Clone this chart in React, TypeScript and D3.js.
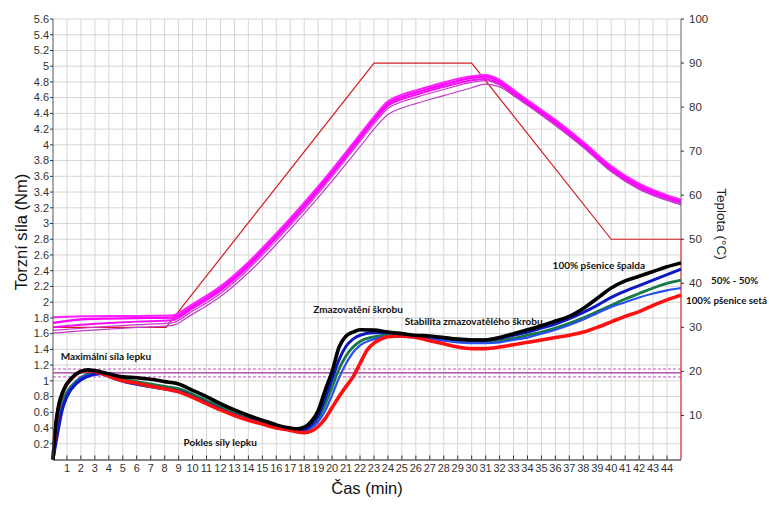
import React from "react";
import * as d3 from "d3";

// ---------- DATA ----------
const X_TICKS = d3.range(1, 45);
const LEFT_TICKS = d3.range(1, 29).map((i) => +(i * 0.2).toFixed(1));
const RIGHT_TICKS = [10, 20, 30, 40, 50, 60, 70, 80, 90, 100];

// programmed temperature profile (°C)
const TEMP_PROFILE: [number, number][] = [
  [0, 30], [8.1, 30], [23, 90], [30, 90], [40, 50], [45, 50], [45, 0],
];

// dough temperature curves (°C)
const MAG_T = [0, 2, 4, 6, 8.5, 10, 12, 14, 16, 18, 20, 22, 23, 24, 25, 26, 28, 30, 31, 32, 33, 34, 36, 38, 40, 42, 44, 45];
const MAG_1 = [32.3, 32.5, 32.6, 32.6, 32.7, 35.3, 39.3, 44.8, 51.3, 58.3, 65.8, 73.8, 77.8, 81.3, 82.8, 83.8, 85.6, 87.0, 87.3, 86.2, 83.9, 81.6, 77.1, 72.1, 66.6, 62.6, 60.0, 59.0];
const MAG_2 = [31.0, 31.8, 32.0, 32.1, 32.2, 34.8, 38.8, 44.3, 50.8, 57.8, 65.3, 73.3, 77.3, 80.8, 82.3, 83.3, 85.1, 86.6, 86.9, 85.8, 83.5, 81.2, 76.7, 71.7, 66.2, 62.2, 59.7, 58.7];
const MAG_3 = [30.0, 30.6, 31.0, 31.3, 31.6, 34.3, 38.3, 43.8, 50.3, 57.3, 64.8, 72.8, 76.8, 80.3, 81.8, 82.8, 84.6, 86.1, 86.4, 85.3, 83.0, 80.8, 76.3, 71.3, 65.8, 61.8, 59.3, 58.3];
const MAG_4 = [29.3, 29.8, 30.2, 30.6, 31.0, 33.7, 37.7, 43.2, 49.7, 56.7, 64.2, 72.2, 76.2, 79.7, 81.2, 82.2, 84.0, 85.6, 86.0, 85.0, 82.8, 80.6, 76.0, 71.0, 65.5, 61.5, 59.0, 58.0];
const MAG_5 = [28.7, 29.2, 29.6, 30.0, 30.4, 33.0, 37.0, 42.4, 48.8, 55.8, 63.2, 71.0, 75.0, 78.3, 79.8, 80.8, 82.6, 84.4, 85.2, 84.6, 82.6, 80.4, 75.8, 70.8, 65.3, 61.3, 58.8, 57.8];

// torque curves (Nm)
const TORQUE_BLACK: [number, number][] = [[0,0],[0.2,0.45],[0.4,0.68],[0.75,0.88],[1.35,1.04],[2,1.12],[2.5,1.14],[3,1.13],[4,1.09],[5,1.05],[6,1.04],[7,1.02],[8,0.99],[9,0.96],[10,0.88],[11,0.8],[12,0.71],[13,0.63],[14,0.56],[15,0.5],[16,0.44],[17,0.4],[17.5,0.39],[18,0.41],[18.5,0.48],[19,0.62],[19.5,0.88],[20,1.12],[20.5,1.43],[21,1.57],[21.5,1.62],[22,1.65],[23,1.645],[24,1.62],[25,1.6],[26,1.58],[27,1.57],[28,1.55],[29,1.53],[30,1.52],[31,1.52],[32,1.55],[33,1.6],[34,1.65],[35,1.7],[36,1.76],[37,1.82],[38,1.92],[39,2.05],[40,2.18],[41,2.27],[42,2.33],[43,2.39],[44,2.45],[45,2.5]];
const TORQUE_BLUE_1: [number, number][] = [[0,0],[0.3,0.3],[0.65,0.62],[1,0.8],[1.7,0.97],[2.4,1.05],[3.4,1.09],[4,1.06],[5,1.0],[6,0.96],[7,0.93],[8,0.9],[9,0.87],[10,0.8],[11,0.72],[12,0.64],[13,0.57],[14,0.51],[15,0.46],[16,0.41],[17,0.38],[17.5,0.37],[18,0.38],[18.5,0.44],[19,0.56],[19.5,0.78],[20,1.02],[20.5,1.27],[21,1.44],[21.5,1.53],[22,1.58],[23,1.61],[24,1.61],[25,1.59],[26,1.57],[27,1.56],[28,1.54],[29,1.53],[30,1.52],[31,1.52],[32,1.54],[33,1.58],[34,1.62],[35,1.67],[36,1.72],[37,1.79],[38,1.87],[39,1.96],[40,2.06],[41,2.14],[42,2.21],[43,2.28],[44,2.35],[45,2.42]];
const TORQUE_BLUE_2: [number, number][] = [[0,0],[0.3,0.35],[0.65,0.66],[1,0.83],[1.7,0.99],[2.4,1.07],[3.4,1.09],[4,1.05],[5,0.99],[6,0.95],[7,0.92],[8,0.89],[9,0.86],[10,0.79],[11,0.71],[12,0.63],[13,0.56],[14,0.5],[15,0.45],[16,0.4],[17,0.37],[17.5,0.36],[18,0.36],[18.5,0.4],[19,0.48],[19.5,0.62],[20,0.82],[20.5,1.04],[21,1.22],[21.5,1.36],[22,1.45],[23,1.53],[24,1.56],[25,1.56],[26,1.55],[27,1.53],[28,1.51],[29,1.49],[30,1.48],[31,1.48],[32,1.49],[33,1.52],[34,1.55],[35,1.6],[36,1.65],[37,1.71],[38,1.78],[39,1.86],[40,1.94],[41,2.0],[42,2.06],[43,2.11],[44,2.15],[45,2.18]];
const TORQUE_GREEN: [number, number][] = [[0,0],[0.3,0.45],[0.6,0.7],[1,0.86],[1.7,1.0],[2.4,1.08],[3,1.1],[4,1.07],[5,1.02],[6,0.99],[7,0.96],[8,0.93],[9,0.9],[10,0.83],[11,0.75],[12,0.67],[13,0.6],[14,0.53],[15,0.47],[16,0.42],[17,0.38],[17.5,0.37],[18,0.37],[18.5,0.42],[19,0.52],[19.5,0.7],[20,0.92],[20.5,1.15],[21,1.32],[21.5,1.43],[22,1.5],[23,1.56],[24,1.58],[25,1.57],[26,1.56],[27,1.54],[28,1.52],[29,1.5],[30,1.49],[31,1.49],[32,1.51],[33,1.54],[34,1.58],[35,1.62],[36,1.67],[37,1.73],[38,1.8],[39,1.88],[40,1.96],[41,2.04],[42,2.11],[43,2.18],[44,2.24],[45,2.28]];
const TORQUE_RED: [number, number][] = [[0,0],[0.2,0.42],[0.4,0.67],[0.75,0.88],[1.35,1.03],[2,1.12],[2.5,1.13],[3,1.12],[4,1.06],[5,1.0],[6,0.97],[7,0.93],[8,0.9],[9,0.86],[10,0.79],[11,0.71],[12,0.63],[13,0.56],[14,0.5],[15,0.45],[16,0.4],[17,0.37],[17.5,0.35],[18,0.34],[18.5,0.36],[19,0.42],[19.5,0.52],[20,0.66],[20.5,0.8],[21,0.93],[21.5,1.05],[22,1.22],[22.5,1.39],[23,1.48],[23.5,1.53],[24,1.56],[25,1.57],[26,1.55],[27,1.51],[28,1.47],[29,1.43],[30,1.41],[31,1.41],[32,1.43],[33,1.46],[34,1.49],[35,1.52],[36,1.55],[37,1.58],[38,1.62],[39,1.68],[40,1.75],[41,1.82],[42,1.88],[43,1.96],[44,2.03],[45,2.09]];

const REF_SOLID = 1.1;
const REF_DASHED = [1.15, 1.05];

const ANNOTATIONS = [
  { text: "Maximální síla lepku", t: 0.55, v: 1.265 },
  { text: "Pokles síly lepku", t: 9.35, v: 0.17 },
  { text: "Zmazovatění škrobu", t: 18.65, v: 1.865 },
  { text: "Stabilita zmazovatělého škrobu", t: 25.2, v: 1.71 },
  { text: "100% pšenice špalda", t: 35.8, v: 2.42 },
];
const RIGHT_LABELS = [
  { text: "50% - 50%", x: 711, y: 283.5 },
  { text: "100% pšenice setá", x: 686, y: 303.5 },
];

// ---------- LAYOUT ----------
const W = 769, H = 513;
const X0 = 53, X1 = 681, Y0 = 459.5, Y1 = 19;

export default function App() {
  const x = d3.scaleLinear().domain([0, 45]).range([X0, X1]);
  const yL = d3.scaleLinear().domain([0, 5.6]).range([Y0, Y1]);
  const yR = d3.scaleLinear().domain([0, 100]).range([Y0, Y1]);

  const lineL = d3.line<[number, number]>().x((d) => x(d[0])).y((d) => yL(d[1])).curve(d3.curveMonotoneX);
  const lineR = d3.line<[number, number]>().x((d) => x(d[0])).y((d) => yR(d[1])).curve(d3.curveMonotoneX);
  const lineLin = d3.line<[number, number]>().x((d) => x(d[0])).y((d) => yR(d[1]));

  const mag = (vals: number[]) => MAG_T.map((t, i) => [t, vals[i]] as [number, number]);
  const magSeries = [
    { d: mag(MAG_5), c: "#c23cc8", w: 1.2 },
    { d: mag(MAG_4), c: "#d030d8", w: 1.2 },
    { d: mag(MAG_3), c: "#f010f0", w: 2 },
    { d: mag(MAG_2), c: "#ff00ff", w: 2.2 },
    { d: mag(MAG_1), c: "#ff20ff", w: 2 },
  ];
  const torque = [
    { d: TORQUE_GREEN, c: "#147a44", w: 2.8 },
    { d: TORQUE_BLUE_2, c: "#2a4ef0", w: 2.2 },
    { d: TORQUE_BLUE_1, c: "#0c18c0", w: 3 },
    { d: TORQUE_RED, c: "#ff1010", w: 3.6 },
    { d: TORQUE_BLACK, c: "#000000", w: 3.6 },
  ];

  const tickFont = "'Liberation Sans', Arial, sans-serif";
  const noteFont = "Lato, 'Open Sans', sans-serif";

  return (
    <svg width={W} height={H} style={{ position: "absolute", left: 0, top: 0, background: "#fff" }}>
      <rect x={0} y={0} width={W} height={H} fill="#fff" />
      {/* grid */}
      <g stroke="#d6d6d6" strokeWidth={1}>
        {X_TICKS.map((t) => (
          <line key={"gx" + t} x1={x(t)} x2={x(t)} y1={Y1} y2={Y0} />
        ))}
        {LEFT_TICKS.map((v) => (
          <line key={"gy" + v} x1={X0} x2={X1} y1={yL(v)} y2={yL(v)} />
        ))}
      </g>

      {/* reference lines */}
      <line x1={X0} x2={X1} y1={yL(REF_SOLID)} y2={yL(REF_SOLID)} stroke="#9b2f9b" strokeWidth={1.2} />
      {REF_DASHED.map((v) => (
        <line key={"rd" + v} x1={X0} x2={X1} y1={yL(v)} y2={yL(v)} stroke="#c050c0" strokeWidth={1} strokeDasharray="3,2" />
      ))}

      {/* temperature profile */}
      <path d={lineLin(TEMP_PROFILE) || ""} fill="none" stroke="#d41e1e" strokeWidth={1.2} />

      {/* dough temperature */}
      {magSeries.map((s, i) => (
        <path key={"m" + i} d={lineR(s.d) || ""} fill="none" stroke={s.c} strokeWidth={s.w} />
      ))}

      {/* torque */}
      {torque.map((s, i) => (
        <path key={"t" + i} d={lineL(s.d) || ""} fill="none" stroke={s.c} strokeWidth={s.w} strokeLinejoin="round" />
      ))}

      {/* axes */}
      <line x1={X0} x2={X0} y1={Y1} y2={Y0} stroke="#555" strokeWidth={1} />
      <line x1={X1} x2={X1} y1={Y1} y2={yR(50)} stroke="#666" strokeWidth={1} />
      <line x1={X0} x2={X1} y1={Y0 + 0.5} y2={Y0 + 0.5} stroke="#111" strokeWidth={1.2} />

      {/* left ticks */}
      {LEFT_TICKS.map((v) => (
        <g key={"lt" + v}>
          <line x1={X0 - 3} x2={X0} y1={yL(v)} y2={yL(v)} stroke="#333" />
          <text x={X0 - 4} y={yL(v) + 3.8} textAnchor="end" fontFamily={tickFont} fontSize={11} fill="#333">
            {String(v)}
          </text>
        </g>
      ))}
      {/* right ticks */}
      {RIGHT_TICKS.map((v) => (
        <g key={"rt" + v}>
          <line x1={X1} x2={X1 + 3} y1={yR(v)} y2={yR(v)} stroke="#333" />
          <text x={X1 + 8} y={yR(v) + 4} fontFamily={tickFont} fontSize={11.5} fill="#333">
            {v}
          </text>
        </g>
      ))}
      {/* bottom ticks */}
      {X_TICKS.map((t) => (
        <g key={"bt" + t}>
          <line x1={x(t)} x2={x(t)} y1={Y0} y2={Y0 - 4} stroke="#333" />
          <text x={x(t)} y={472} textAnchor="middle" fontFamily={tickFont} fontSize={11} fill="#333">
            {t}
          </text>
        </g>
      ))}

      {/* axis titles */}
      <text transform="translate(27,232) rotate(-90)" textAnchor="middle" fontFamily={tickFont} fontSize={16.5} fill="#111">
        Torzní síla (Nm)
      </text>
      <text transform="translate(717,224) rotate(90)" textAnchor="middle" fontFamily={tickFont} fontSize={13.5} fill="#222">
        Teplota (°C)
      </text>
      <text x={367} y={494} textAnchor="middle" fontFamily={tickFont} fontSize={16.5} fill="#111">
        Čas (min)
      </text>

      {/* annotations */}
      {ANNOTATIONS.map((a) => (
        <text key={a.text} x={x(a.t)} y={yL(a.v)} fontFamily={noteFont} fontWeight="bold" fontSize={10} fill="#111">
          {a.text}
        </text>
      ))}
      {RIGHT_LABELS.map((a) => (
        <text key={a.text} x={a.x} y={a.y} fontFamily={noteFont} fontWeight="bold" fontSize={9.8} fill="#111">
          {a.text}
        </text>
      ))}
    </svg>
  );
}
